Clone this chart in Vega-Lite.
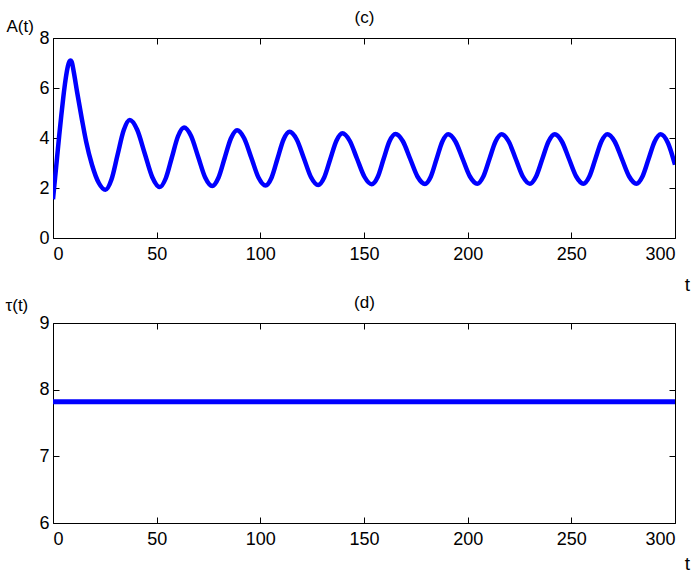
{
  "$schema": "https://vega.github.io/schema/vega-lite/v6.json",
  "background": "white",
  "padding": {"left": 5, "top": 8, "right": 5, "bottom": 0},
  "spacing": 85,
  "bounds": "flush",
  "config": {
    "view": {"stroke": null},
    "font": "Liberation Sans",
    "axis": {
      "grid": false,
      "domainColor": "black",
      "domainWidth": 1,
      "tickColor": "black",
      "tickWidth": 1,
      "tickSize": -6,
      "labelFont": "Liberation Sans",
      "labelFontSize": 18,
      "labelColor": "black",
      "titleFont": "Liberation Sans",
      "titleFontSize": 17,
      "titleFontWeight": "normal",
      "titleColor": "black"
    }
  },
  "datasets": {
    "a": [
      {"t": 0, "A": 1.55}, {"t": 1, "A": 2.4}, {"t": 2, "A": 3.25}, {"t": 3, "A": 4.1},
      {"t": 4, "A": 4.9}, {"t": 5, "A": 5.65}, {"t": 6, "A": 6.3}, {"t": 7, "A": 6.8},
      {"t": 8, "A": 7.07}, {"t": 8.4, "A": 7.1}, {"t": 9, "A": 7.05}, {"t": 10, "A": 6.65},
      {"t": 11.6, "A": 5.85}, {"t": 14, "A": 4.72}, {"t": 16, "A": 3.85}, {"t": 18.8, "A": 2.93},
      {"t": 22.1, "A": 2.2}, {"t": 25.3, "A": 1.93}, {"t": 28.2, "A": 2.34}, {"t": 31.15, "A": 3.33},
      {"t": 34.1, "A": 4.31}, {"t": 37.0, "A": 4.72}, {"t": 40.6, "A": 4.33}, {"t": 44.25, "A": 3.38},
      {"t": 47.9, "A": 2.43}, {"t": 51.5, "A": 2.04}, {"t": 54.4, "A": 2.39}, {"t": 57.35, "A": 3.23},
      {"t": 60.3, "A": 4.07}, {"t": 63.2, "A": 4.42}, {"t": 66.6, "A": 4.08}, {"t": 70.0, "A": 3.25},
      {"t": 73.4, "A": 2.42}, {"t": 76.8, "A": 2.08}, {"t": 79.8, "A": 2.41}, {"t": 82.8, "A": 3.2},
      {"t": 85.8, "A": 3.98}, {"t": 88.8, "A": 4.31}, {"t": 92.2, "A": 3.99}, {"t": 95.65, "A": 3.21},
      {"t": 99.1, "A": 2.42}, {"t": 102.5, "A": 2.1}, {"t": 105.4, "A": 2.41}, {"t": 108.3, "A": 3.18},
      {"t": 111.2, "A": 3.94}, {"t": 114.1, "A": 4.25}, {"t": 117.55, "A": 3.94}, {"t": 121.0, "A": 3.19},
      {"t": 124.45, "A": 2.43}, {"t": 127.9, "A": 2.12}, {"t": 130.8, "A": 2.42}, {"t": 133.75, "A": 3.16},
      {"t": 136.7, "A": 3.89}, {"t": 139.6, "A": 4.19}, {"t": 143.1, "A": 3.89}, {"t": 146.65, "A": 3.17},
      {"t": 150.2, "A": 2.45}, {"t": 153.7, "A": 2.15}, {"t": 156.6, "A": 2.44}, {"t": 159.45, "A": 3.16},
      {"t": 162.3, "A": 3.87}, {"t": 165.2, "A": 4.16}, {"t": 168.75, "A": 3.87}, {"t": 172.3, "A": 3.16},
      {"t": 175.85, "A": 2.45}, {"t": 179.4, "A": 2.16}, {"t": 182.2, "A": 2.45}, {"t": 185.0, "A": 3.16},
      {"t": 187.8, "A": 3.86}, {"t": 190.6, "A": 4.15}, {"t": 194.1, "A": 3.86}, {"t": 197.6, "A": 3.16},
      {"t": 201.1, "A": 2.46}, {"t": 204.6, "A": 2.17}, {"t": 207.55, "A": 2.46}, {"t": 210.5, "A": 3.16},
      {"t": 213.45, "A": 3.86}, {"t": 216.4, "A": 4.15}, {"t": 219.8, "A": 3.86}, {"t": 223.2, "A": 3.16},
      {"t": 226.6, "A": 2.46}, {"t": 230.0, "A": 2.17}, {"t": 233.0, "A": 2.46}, {"t": 236.0, "A": 3.16},
      {"t": 239.0, "A": 3.86}, {"t": 242.0, "A": 4.15}, {"t": 245.45, "A": 3.86}, {"t": 248.9, "A": 3.16},
      {"t": 252.35, "A": 2.46}, {"t": 255.8, "A": 2.17}, {"t": 258.7, "A": 2.46}, {"t": 261.6, "A": 3.16},
      {"t": 264.5, "A": 3.86}, {"t": 267.4, "A": 4.15}, {"t": 270.9, "A": 3.86}, {"t": 274.4, "A": 3.16},
      {"t": 277.9, "A": 2.46}, {"t": 281.4, "A": 2.17}, {"t": 284.3, "A": 2.46}, {"t": 287.25, "A": 3.16},
      {"t": 290.2, "A": 3.86}, {"t": 293.1, "A": 4.15}, {"t": 296.6, "A": 3.8}, {"t": 300, "A": 2.93}
    ],
    "tau": [
      {"t": 0, "tau": 7.82}, {"t": 300, "tau": 7.82}
    ]
  },
  "vconcat": [
    {
      "width": 622,
      "height": 200,
      "data": {"name": "a"},
      "layer": [
        {
          "mark": {"type": "line", "color": "#0000ff", "strokeWidth": 4.5, "interpolate": "monotone", "clip": true},
          "encoding": {
            "x": {"field": "t", "type": "quantitative", "scale": {"domain": [0, 300], "nice": false},
              "axis": {"values": [0, 50, 100, 150, 200, 250, 300], "labelPadding": 13, "title": "t", "titleAngle": 0,
                "titleFontSize": 19, "titleX": 634, "titleY": 52, "titleAlign": "center", "titleBaseline": "alphabetic"}},
            "y": {"field": "A", "type": "quantitative", "scale": {"domain": [0, 8], "nice": false, "zero": false},
              "axis": {"values": [0, 2, 4, 6, 8], "labelPadding": 10, "title": "A(t)", "titleAngle": 0,
                "titleX": -47, "titleY": -7, "titleAlign": "left", "titleBaseline": "alphabetic"}}
          }
        },
        {
          "mark": {"type": "line", "opacity": 0},
          "encoding": {
            "x": {"field": "t", "type": "quantitative", "axis": {"values": [0, 50, 100, 150, 200, 250, 300], "labels": false, "orient": "top",
              "title": "(c)", "titleX": 311, "titleY": -15.5, "titleAlign": "center", "titleBaseline": "alphabetic", "titleAngle": 0}},
            "y": {"field": "A", "type": "quantitative", "axis": {"values": [0, 2, 4, 6, 8], "labels": false, "title": null, "orient": "right"}}
          }
        }
      ],
      "resolve": {"axis": {"x": "independent", "y": "independent"}}
    },
    {
      "width": 622,
      "height": 200,
      "data": {"name": "tau"},
      "layer": [
        {
          "mark": {"type": "line", "color": "#0000ff", "strokeWidth": 5},
          "encoding": {
            "x": {"field": "t", "type": "quantitative", "scale": {"domain": [0, 300], "nice": false},
              "axis": {"values": [0, 50, 100, 150, 200, 250, 300], "labelPadding": 13, "title": "t", "titleAngle": 0,
                "titleFontSize": 19, "titleX": 634, "titleY": 46, "titleAlign": "center", "titleBaseline": "alphabetic"}},
            "y": {"field": "tau", "type": "quantitative", "scale": {"domain": [6, 9], "nice": false, "zero": false},
              "axis": {"values": [6, 7, 8, 9], "labelPadding": 10, "title": "τ(t)", "titleAngle": 0,
                "titleX": -48, "titleY": -13, "titleAlign": "left", "titleBaseline": "alphabetic"}}
          }
        },
        {
          "mark": {"type": "line", "opacity": 0},
          "encoding": {
            "x": {"field": "t", "type": "quantitative", "axis": {"values": [0, 50, 100, 150, 200, 250, 300], "labels": false, "orient": "top",
              "title": "(d)", "titleX": 311, "titleY": -15.5, "titleAlign": "center", "titleBaseline": "alphabetic", "titleAngle": 0}},
            "y": {"field": "tau", "type": "quantitative", "axis": {"values": [6, 7, 8, 9], "labels": false, "title": null, "orient": "right"}}
          }
        }
      ],
      "resolve": {"axis": {"x": "independent", "y": "independent"}}
    }
  ]
}
